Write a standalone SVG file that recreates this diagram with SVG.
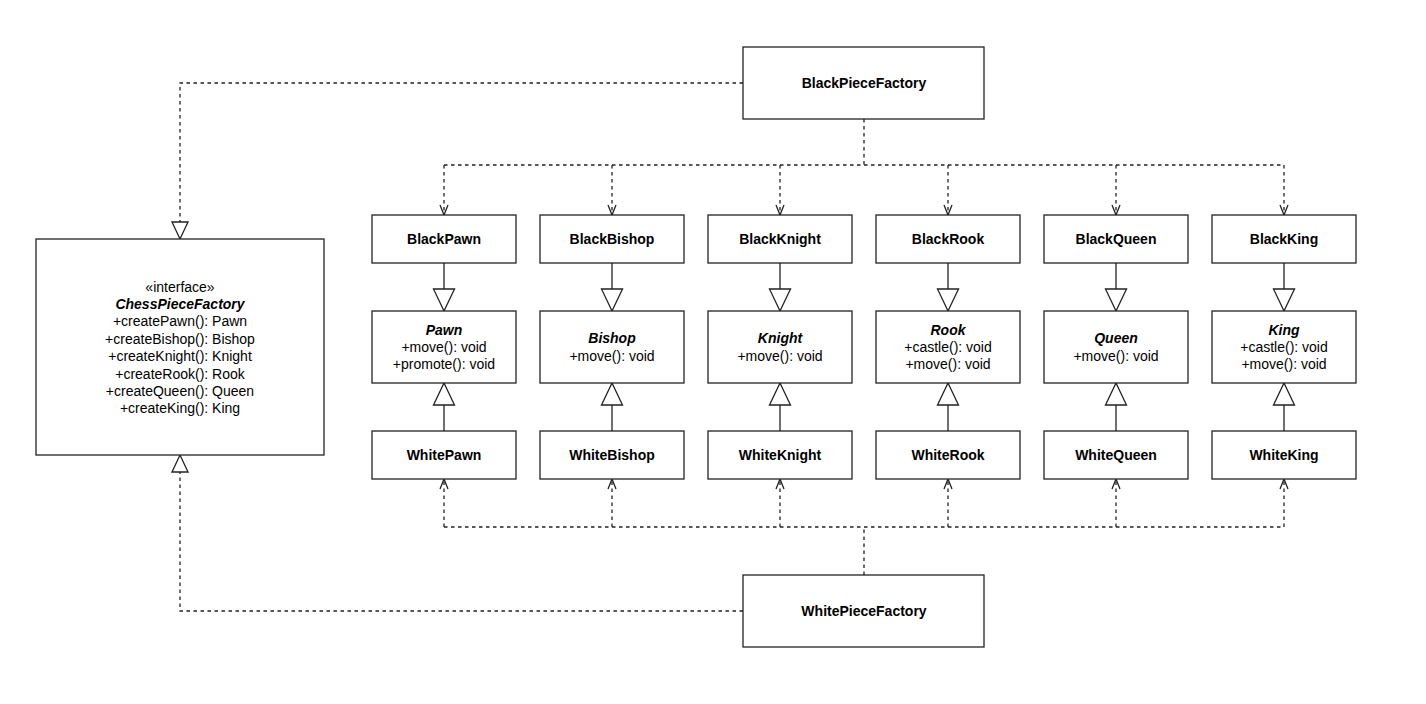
<svg xmlns="http://www.w3.org/2000/svg" width="1426" height="704" viewBox="0 0 1426 704">
  <style>
    .box { fill: #ffffff; stroke: #222; stroke-width: 1.3; }
    .t { font-family: "Liberation Sans", Arial, sans-serif; font-size: 14px; fill: #000; text-anchor: middle; }
    .b { font-weight: bold; }
    .bi { font-weight: bold; font-style: italic; }
    .dep { fill: none; stroke: #222; stroke-width: 1.3; stroke-dasharray: 3.5 3.5; }
    .gen { fill: none; stroke: #222; stroke-width: 1.3; }
  </style>
  <defs>
    <!-- open arrowhead for dependency arrows -->
    <marker id="open" markerUnits="userSpaceOnUse" viewBox="-12 -7 14 14" markerWidth="14" markerHeight="14" refX="0" refY="0" orient="auto" overflow="visible">
      <path d="M-10,-4 L0,0 L-10,4" fill="none" stroke="#222" stroke-width="1.3" stroke-dasharray="none"/>
    </marker>
    <!-- hollow triangle for generalization -->
    <marker id="tri" markerUnits="userSpaceOnUse" viewBox="-24 -12 26 24" markerWidth="26" markerHeight="24" refX="0" refY="0" orient="auto" overflow="visible">
      <path d="M-22,-10.5 L0,0 L-22,10.5 Z" fill="#fff" stroke="#222" stroke-width="1.3" stroke-dasharray="none"/>
    </marker>
    <!-- smaller hollow triangle for realization of the interface -->
    <marker id="triS" markerUnits="userSpaceOnUse" viewBox="-20 -10 22 20" markerWidth="22" markerHeight="20" refX="0" refY="0" orient="auto" overflow="visible">
      <path d="M-17,-8 L0,0 L-17,8 Z" fill="#fff" stroke="#222" stroke-width="1.3" stroke-dasharray="none"/>
    </marker>
  </defs>

  <rect width="1426" height="704" fill="#ffffff"/>

  <g id="connectors">
    <!-- factories realize the interface -->
    <path class="dep" d="M743,83 H180 V239" marker-end="url(#triS)"/>
    <path class="dep" d="M743,611 H180 V455" marker-end="url(#triS)"/>

    <!-- BlackPieceFactory creates black pieces -->
    <path class="dep" d="M864,119 V165"/>
    <path class="dep" d="M444,165 H1284"/>
    <path class="dep" d="M444,165 V215" marker-end="url(#open)"/>
    <path class="dep" d="M612,165 V215" marker-end="url(#open)"/>
    <path class="dep" d="M780,165 V215" marker-end="url(#open)"/>
    <path class="dep" d="M948,165 V215" marker-end="url(#open)"/>
    <path class="dep" d="M1116,165 V215" marker-end="url(#open)"/>
    <path class="dep" d="M1284,165 V215" marker-end="url(#open)"/>

    <!-- WhitePieceFactory creates white pieces -->
    <path class="dep" d="M864,575 V527"/>
    <path class="dep" d="M444,527 H1284"/>
    <path class="dep" d="M444,527 V479" marker-end="url(#open)"/>
    <path class="dep" d="M612,527 V479" marker-end="url(#open)"/>
    <path class="dep" d="M780,527 V479" marker-end="url(#open)"/>
    <path class="dep" d="M948,527 V479" marker-end="url(#open)"/>
    <path class="dep" d="M1116,527 V479" marker-end="url(#open)"/>
    <path class="dep" d="M1284,527 V479" marker-end="url(#open)"/>

    <!-- black pieces extend abstract pieces -->
    <path class="gen" d="M444,263 V311" marker-end="url(#tri)"/>
    <path class="gen" d="M612,263 V311" marker-end="url(#tri)"/>
    <path class="gen" d="M780,263 V311" marker-end="url(#tri)"/>
    <path class="gen" d="M948,263 V311" marker-end="url(#tri)"/>
    <path class="gen" d="M1116,263 V311" marker-end="url(#tri)"/>
    <path class="gen" d="M1284,263 V311" marker-end="url(#tri)"/>

    <!-- white pieces extend abstract pieces -->
    <path class="gen" d="M444,431 V383" marker-end="url(#tri)"/>
    <path class="gen" d="M612,431 V383" marker-end="url(#tri)"/>
    <path class="gen" d="M780,431 V383" marker-end="url(#tri)"/>
    <path class="gen" d="M948,431 V383" marker-end="url(#tri)"/>
    <path class="gen" d="M1116,431 V383" marker-end="url(#tri)"/>
    <path class="gen" d="M1284,431 V383" marker-end="url(#tri)"/>
  </g>

  <g id="ChessPieceFactory">
    <rect class="box" x="36" y="239" width="288" height="216"/>
    <text class="t" x="180" y="292">«interface»</text>
    <text class="t bi" x="180" y="309">ChessPieceFactory</text>
    <text class="t" x="180" y="326">+createPawn(): Pawn</text>
    <text class="t" x="180" y="343.5">+createBishop(): Bishop</text>
    <text class="t" x="180" y="361">+createKnight(): Knight</text>
    <text class="t" x="180" y="378.5">+createRook(): Rook</text>
    <text class="t" x="180" y="396">+createQueen(): Queen</text>
    <text class="t" x="180" y="413">+createKing(): King</text>
  </g>

  <g id="BlackPieceFactory">
    <rect class="box" x="743" y="47" width="241" height="72"/>
    <text class="t b" x="864" y="88">BlackPieceFactory</text>
  </g>
  <g id="WhitePieceFactory">
    <rect class="box" x="743" y="575" width="241" height="72"/>
    <text class="t b" x="864" y="616">WhitePieceFactory</text>
  </g>

  <!-- black concrete pieces -->
  <g id="BlackPawn"><rect class="box" x="372" y="215" width="144" height="48"/><text class="t b" x="444" y="244">BlackPawn</text></g>
  <g id="BlackBishop"><rect class="box" x="540" y="215" width="144" height="48"/><text class="t b" x="612" y="244">BlackBishop</text></g>
  <g id="BlackKnight"><rect class="box" x="708" y="215" width="144" height="48"/><text class="t b" x="780" y="244">BlackKnight</text></g>
  <g id="BlackRook"><rect class="box" x="876" y="215" width="144" height="48"/><text class="t b" x="948" y="244">BlackRook</text></g>
  <g id="BlackQueen"><rect class="box" x="1044" y="215" width="144" height="48"/><text class="t b" x="1116" y="244">BlackQueen</text></g>
  <g id="BlackKing"><rect class="box" x="1212" y="215" width="144" height="48"/><text class="t b" x="1284" y="244">BlackKing</text></g>

  <!-- abstract pieces -->
  <g id="Pawn">
    <rect class="box" x="372" y="311" width="144" height="72"/>
    <text class="t bi" x="444" y="335">Pawn</text>
    <text class="t" x="444" y="352">+move(): void</text>
    <text class="t" x="444" y="369">+promote(): void</text>
  </g>
  <g id="Bishop">
    <rect class="box" x="540" y="311" width="144" height="72"/>
    <text class="t bi" x="612" y="343">Bishop</text>
    <text class="t" x="612" y="361">+move(): void</text>
  </g>
  <g id="Knight">
    <rect class="box" x="708" y="311" width="144" height="72"/>
    <text class="t bi" x="780" y="343">Knight</text>
    <text class="t" x="780" y="361">+move(): void</text>
  </g>
  <g id="Rook">
    <rect class="box" x="876" y="311" width="144" height="72"/>
    <text class="t bi" x="948" y="335">Rook</text>
    <text class="t" x="948" y="352">+castle(): void</text>
    <text class="t" x="948" y="369">+move(): void</text>
  </g>
  <g id="Queen">
    <rect class="box" x="1044" y="311" width="144" height="72"/>
    <text class="t bi" x="1116" y="343">Queen</text>
    <text class="t" x="1116" y="361">+move(): void</text>
  </g>
  <g id="King">
    <rect class="box" x="1212" y="311" width="144" height="72"/>
    <text class="t bi" x="1284" y="335">King</text>
    <text class="t" x="1284" y="352">+castle(): void</text>
    <text class="t" x="1284" y="369">+move(): void</text>
  </g>

  <!-- white concrete pieces -->
  <g id="WhitePawn"><rect class="box" x="372" y="431" width="144" height="48"/><text class="t b" x="444" y="460">WhitePawn</text></g>
  <g id="WhiteBishop"><rect class="box" x="540" y="431" width="144" height="48"/><text class="t b" x="612" y="460">WhiteBishop</text></g>
  <g id="WhiteKnight"><rect class="box" x="708" y="431" width="144" height="48"/><text class="t b" x="780" y="460">WhiteKnight</text></g>
  <g id="WhiteRook"><rect class="box" x="876" y="431" width="144" height="48"/><text class="t b" x="948" y="460">WhiteRook</text></g>
  <g id="WhiteQueen"><rect class="box" x="1044" y="431" width="144" height="48"/><text class="t b" x="1116" y="460">WhiteQueen</text></g>
  <g id="WhiteKing"><rect class="box" x="1212" y="431" width="144" height="48"/><text class="t b" x="1284" y="460">WhiteKing</text></g>
</svg>
